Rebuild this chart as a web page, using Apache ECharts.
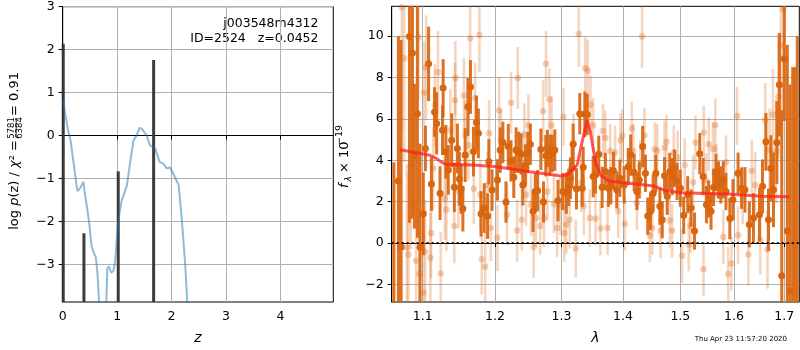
<!DOCTYPE html>
<html>
<head>
<meta charset="utf-8">
<script src="https://cdn.jsdelivr.net/npm/echarts@6/dist/echarts.min.js"></script>
<style>
  html, body { margin: 0; padding: 0; background: #fff; }
  #chart { width: 800px; height: 350px; }
</style>
</head>
<body>
<div id="chart"></div>
<script>
// left panel: redshift probability
const pzZ = [0.01, 0.04, 0.10, 0.15, 0.18, 0.23, 0.27, 0.31, 0.35, 0.38, 0.41, 0.45, 0.49, 0.53, 0.58, 0.61, 0.64, 0.67,
  0.70, 0.78, 0.80, 0.82, 0.85, 0.89, 0.93, 0.96, 1.02, 1.08, 1.18, 1.24, 1.30, 1.36, 1.41, 1.45, 1.54, 1.60,
  1.70, 1.78, 1.85, 1.91, 1.97, 2.03, 2.13, 2.19, 2.25, 2.29, 2.33];
const pzLogP = [0.82, 0.55, 0.12, -0.15, -0.45, -0.92, -1.29, -1.24, -1.15, -1.07, -1.38, -1.69, -2.07, -2.57, -2.75, -2.84, -3.23, -3.9,
  -5, -5, -3.9, -3.09, -3.04, -3.19, -3.15, -2.95, -1.99, -1.53, -1.15, -0.61, -0.11, 0.01, 0.18, 0.16, 0.01, -0.22,
  -0.30, -0.61, -0.65, -0.76, -0.74, -0.88, -1.15, -1.99, -3.0, -3.92, -5];
const peakZ = [0.01, 0.39, 1.02, 1.67];
const peakLogP = [2.14, -2.27, -0.83, 1.76];
const zTicks = [0, 1, 2, 3, 4];
const logPTicks = [-3, -2, -1, 0, 1, 2, 3];

// right panel: spectrum
const darkWave = [
  1.0625, 1.0683, 1.0718, 1.0826, 1.0865, 1.0891, 1.0930, 1.0965, 1.1008, 1.1036,
  1.1078, 1.1116, 1.1158, 1.1186, 1.1232, 1.1265, 1.1274, 1.1311, 1.1344, 1.1391,
  1.1427, 1.1469, 1.1497, 1.1521, 1.1545, 1.1577, 1.1615, 1.1651, 1.1693, 1.1735,
  1.1763, 1.1800, 1.1846, 1.1894, 1.1912, 1.1958, 1.2036, 1.2075, 1.2115, 1.2160,
  1.2194, 1.2234, 1.2275, 1.2309, 1.2349, 1.2384, 1.2409, 1.2448, 1.2484, 1.2522,
  1.2563, 1.2597, 1.2633, 1.2682, 1.2722, 1.2757, 1.2782, 1.2821, 1.2857, 1.2896,
  1.2946, 1.3023, 1.3076, 1.3113, 1.3141, 1.3168, 1.3184, 1.3237, 1.3290, 1.3329,
  1.3345, 1.3371, 1.3410, 1.3506, 1.3544, 1.3597, 1.3652, 1.3705, 1.3758, 1.3797,
  1.3839, 1.3894, 1.3947, 1.4018, 1.4088, 1.4130, 1.4189, 1.4236, 1.4277, 1.4335,
  1.4383, 1.4423, 1.4471, 1.4518, 1.4564, 1.4635, 1.4677, 1.4718, 1.4765, 1.4811,
  1.4853, 1.4894, 1.4942, 1.5000, 1.5061, 1.5134, 1.5197, 1.5258, 1.5355, 1.5418,
  1.5479, 1.5521, 1.5565, 1.5613, 1.5657, 1.5705, 1.5749, 1.5797, 1.5847, 1.5921,
  1.5981, 1.6080, 1.6148, 1.6214, 1.6300, 1.6380, 1.6500, 1.6560, 1.6628, 1.6680,
  1.6728, 1.6780, 1.6848, 1.6900, 1.6948, 1.7000, 1.7062, 1.7117, 1.7173, 1.7220,
  1.7268];
const darkFlux = [
  -3.5, 3.0, -0.19, 9.98, 9.18, 4.2, 6.25, -0.2, 1.41, 4.57,
  8.66, 2.85, 6.33, 5.78, 2.41, 5.45, 7.49, 4.41, 3.53, 4.97,
  2.69, 4.57, 3.10, 2.61, 1.66, 4.25, 6.58, 7.54, 4.42, 5.82,
  5.30, 1.41, 1.69, 1.30, 3.93, 2.56, 3.05, 4.49, 4.86, 1.98,
  4.66, 3.97, 3.18, 4.49, 4.38, 4.30, 2.81, 3.77, 4.38, 4.77,
  1.54, 2.49, 2.53, 4.53, 1.98, 4.22, 4.57, 4.25, 4.33, 4.49,
  2.05, 2.49, 2.41, 2.69, 3.13, 3.64, 4.77, 2.62, 6.25, 2.65,
  3.66, 6.22, 6.21, 3.21, 3.29, 4.29, 2.69, 3.46, 2.65, 2.77,
  3.49, 2.57, 3.13, 2.81, 3.69, 4.25, 3.41, 2.49, 3.05, 4.66,
  3.37, 1.30, 1.54, 2.41, 3.37, 1.78, 1.13, 3.25, 2.26, 3.46,
  3.21, 3.61, 2.98, 2.65, 1.34, 2.33, 1.69, 0.58, 4.32, 3.21,
  1.85, 2.13, 1.54, 2.69, 3.42, 3.05, 2.81, 3.05, 2.49, 1.18,
  2.09, 3.37, 2.65, 2.57, 0.89, 1.21, 1.37, 2.74, 4.89, 1.13,
  3.61, 2.57, 4.86, 7.65, -1.58, 8.90, 0.58, -2.34, -4.0, -3.5,
  -3.0];
const darkErr = [
  7.4, 7, 10, 9, 8, 3.5, 6, 5, 2.0, 1.1,
  1.8, 1.3, 1.2, 1.5, 1.3, 1.2, 1.4, 1.3, 1.2, 1.3,
  1.2, 1.2, 1.3, 1.2, 1.1, 1.3, 1.4, 1.3, 1.2, 1.3,
  1.2, 1.1, 1.2, 1.1, 1.1, 1.0, 1.0, 1.1, 1.0, 1.0,
  1.1, 1.0, 1.0, 1.1, 1.0, 1.0, 1.0, 1.0, 1.0, 1.0,
  1.0, 0.9, 1.0, 1.0, 1.0, 1.0, 0.9, 1.0, 0.9, 1.0,
  1.0, 0.9, 1.0, 0.9, 1.0, 1.0, 1.0, 1.0, 1.0, 0.9,
  1.0, 1.1, 1.0, 1.0, 0.9, 0.9, 1.0, 0.9, 0.9, 0.9,
  0.9, 0.9, 0.9, 0.9, 0.9, 1.0, 0.9, 0.9, 0.9, 1.0,
  0.9, 0.9, 0.9, 0.9, 0.9, 0.9, 0.9, 0.9, 0.9, 0.9,
  0.9, 0.9, 0.9, 0.9, 0.9, 0.9, 0.9, 0.9, 1.0, 0.9,
  0.9, 0.9, 0.9, 0.9, 0.9, 0.9, 0.9, 0.9, 0.9, 1.0,
  1.0, 1.0, 1.0, 1.1, 1.1, 1.2, 1.3, 1.3, 1.4, 1.5,
  1.6, 1.8, 2.0, 2.5, 8, 3, 9, 10, 12.5, 12,
  13];

const lightWave = [
  1.0727, 1.0757, 1.0792, 1.0813, 1.0844, 1.0913, 1.0943, 1.0956, 1.1008, 1.1018,
  1.1032, 1.1046, 1.1102, 1.1112, 1.1140, 1.1162, 1.1204, 1.1242, 1.1297, 1.1318,
  1.1372, 1.1427, 1.1437, 1.1441, 1.1483, 1.1559, 1.1577, 1.1623, 1.1647, 1.1698,
  1.1716, 1.1777, 1.1790, 1.1810, 1.1860, 1.1894, 1.1916, 1.1940, 1.2036, 1.2060,
  1.2085, 1.2175, 1.2234, 1.2324, 1.2334, 1.2394, 1.2433, 1.2458, 1.2493, 1.2533,
  1.2573, 1.2607, 1.2672, 1.2716, 1.2731, 1.2761, 1.2782, 1.2812, 1.2846, 1.2881,
  1.2931, 1.2981, 1.3032, 1.3043, 1.3076, 1.3129, 1.3190, 1.3226, 1.3274, 1.3313,
  1.3355, 1.3377, 1.3419, 1.3451, 1.3463, 1.3506, 1.3544, 1.3624, 1.3668, 1.3705,
  1.3742, 1.3786, 1.3866, 1.3920, 1.3958, 1.3990, 1.4030, 1.4148, 1.4176, 1.4236,
  1.4295, 1.4325, 1.4365, 1.4459, 1.4501, 1.4547, 1.4589, 1.4648, 1.4718, 1.4753,
  1.4811, 1.4853, 1.4882, 1.4952, 1.5031, 1.5079, 1.5153, 1.5184, 1.5234, 1.5276,
  1.5425, 1.5429, 1.5470, 1.5521, 1.5602, 1.5645, 1.5663, 1.5797, 1.5847, 1.5890,
  1.5952, 1.6060, 1.6080, 1.6168, 1.6280, 1.6348, 1.6414, 1.6514, 1.6614, 1.6660,
  1.6700, 1.6768, 1.6834, 1.6880, 1.6928, 1.6980];
const lightFlux = [
  11.4, 8.93, -0.2, -0.55, 3.7, -0.86, 9.93, -1.5, -2.39, 7.26,
  -0.42, 8.5, -0.71, 0.49, 3.61, 6.65, 8.26, -1.47, 2.17, 1.61,
  5.45, 0.82, 6.9, 7.97, 2.49, 7.13, 5.21, 4.73, 9.89, 2.62,
  7.01, 10.05, 2.33, -0.79, -1.15, 2.81, 5.3, 0.73, 0.25, 6.41,
  4.97, 1.37, 6.78, 0.6, 7.97, 1.13, 5.25, 2.33, 5.69, 1.85,
  -0.19, 1.21, 0.82, 6.37, 1.21, 8.66, 2.49, 6.94, 5.69, 1.89,
  0.73, 1.78, 6.1, 0.49, 0.89, 1.13, 4.86, -0.26, 10.1, 2.9,
  1.78, 8.45, 8.33, 1.21, 6.69, 5.69, 1.18, 0.7, 5.41, 5.09,
  0.73, 4.45, 4.38, 1.54, 4.97, 5.18, 0.93, 5.54, 4.45, 1.93,
  3.69, 9.98, 5.21, 0.38, 0.73, 4.53, 4.45, 0.58, 4.61, 4.9,
  1.09, 0.6, 4.38, 4.13, -0.62, 3.77, -0.07, 0.84, 2.94, 4.86,
  -1.27, 5.34, 3.05, 4.77, 4.54, 5.69, 3.49, 0.29, 3.9, -1.5,
  -0.99, 6.14, 0.38, 2.3, -0.55, 3.49, 2.81, 0.17, 5.93, -0.31,
  4.49, 6.21, 4.42, 7.06, 9.53, 11.3];
const lightErr = [
  6, 5, 4, 4, 4, 3, 3, 3, 3, 2.5,
  2.5, 2.5, 2.2, 2.2, 2.0, 2.0, 2.0, 2.0, 2.0, 2.0,
  2.0, 1.8, 1.8, 1.8, 1.8, 1.8, 1.7, 1.7, 1.8, 1.7,
  1.7, 1.8, 1.7, 1.7, 1.7, 1.6, 1.6, 1.6, 1.6, 1.6,
  1.5, 1.5, 1.5, 1.5, 1.5, 1.5, 1.5, 1.5, 1.5, 1.5,
  1.5, 1.4, 1.4, 1.5, 1.4, 1.6, 1.4, 1.5, 1.4, 1.4,
  1.4, 1.4, 1.4, 1.4, 1.4, 1.4, 1.4, 1.4, 1.6, 1.4,
  1.4, 1.5, 1.5, 1.4, 1.4, 1.3, 1.3, 1.3, 1.3, 1.3,
  1.3, 1.3, 1.3, 1.3, 1.3, 1.3, 1.3, 1.3, 1.3, 1.3,
  1.3, 1.5, 1.3, 1.3, 1.3, 1.3, 1.3, 1.3, 1.3, 1.3,
  1.3, 1.3, 1.3, 1.3, 1.3, 1.3, 1.3, 1.3, 1.3, 1.3,
  1.3, 1.3, 1.3, 1.3, 1.3, 1.3, 1.3, 1.3, 1.3, 1.3,
  1.3, 1.4, 1.4, 1.4, 1.5, 1.5, 1.6, 1.7, 1.8, 1.9,
  2.0, 2.2, 2.5, 3, 4, 5];

const modelWave = [1.0704, 1.1097, 1.1180, 1.1300, 1.1689, 1.2025, 1.2517, 1.2996, 1.3083, 1.3168,
  1.3248, 1.3327, 1.3408, 1.3461, 1.3542, 1.3623, 1.3761, 1.3984, 1.4267, 1.4527,
  1.4731, 1.5028, 1.5332, 1.5958, 1.6545, 1.7104];
const modelFlux = [4.51, 4.24, 4.09, 3.81, 3.77, 3.69, 3.44, 3.24, 3.29, 3.53,
  3.77, 4.89, 5.93, 5.37, 3.93, 3.29, 3.00, 2.92, 2.84, 2.76,
  2.53, 2.43, 2.41, 2.36, 2.26, 2.24];
const waveTicks = [1.1, 1.2, 1.3, 1.4, 1.5, 1.6, 1.7];
const fluxTicks = [-2, 0, 2, 4, 6, 8, 10];

const FONT = "DejaVu Sans";
const ORANGE = "#d9650f";

const minus = (v) => (v < 0 ? "\u2212" + Math.abs(v) : String(v));

// clip a vertical segment to the grid rect
function vline(params, api, x, lo, hi, stroke, width, opacity) {
  const cs = params.coordSys;
  const p0 = api.coord([x, lo]);
  const p1 = api.coord([x, hi]);
  const top = cs.y, bottom = cs.y + cs.height;
  const clamp = (y) => Math.min(Math.max(y, top), bottom);
  return {
    type: "line",
    shape: { x1: p0[0], y1: clamp(p0[1]), x2: p1[0], y2: clamp(p1[1]) },
    style: { stroke: stroke, lineWidth: width, opacity: opacity },
  };
}

const axisCommon = {
  axisLine: { show: true, lineStyle: { color: "#000", width: 1 } },
  axisTick: { show: true, length: 4, lineStyle: { color: "#000" } },
  splitLine: { show: true, lineStyle: { color: "#b0b0b0", width: 1 } },
};

const chart = echarts.init(document.getElementById("chart"));

const option = {
  animation: false,
  backgroundColor: "#fff",
  grid: [
    { left: 62.7, top: 6.7, width: 270.6, height: 297.3, show: true, borderColor: "#000", borderWidth: 1, backgroundColor: "transparent" },
    { left: 391.7, top: 6.3, width: 407.6, height: 297.7, show: true, borderColor: "#000", borderWidth: 1, backgroundColor: "transparent" },
  ],
  xAxis: [
    {
      type: "value", gridIndex: 0, min: 0, max: 4.97,
      name: "z", nameLocation: "middle", nameGap: 29,
      nameTextStyle: { fontFamily: FONT, fontStyle: "italic", fontSize: 14, color: "#000" },
      ...axisCommon,
      axisTick: { ...axisCommon.axisTick, customValues: zTicks },
      axisLabel: { customValues: zTicks, color: "#000", fontFamily: FONT, fontSize: 12.5, margin: 8, formatter: minus },
    },
    {
      type: "log", logBase: 10, gridIndex: 1, min: 1.0597, max: 1.731,
      name: "\u03bb", nameLocation: "middle", nameGap: 29,
      nameTextStyle: { fontFamily: FONT, fontStyle: "italic", fontSize: 14, color: "#000" },
      ...axisCommon,
      minorTick: { show: false },
      axisTick: { ...axisCommon.axisTick, customValues: waveTicks },
      axisLabel: { customValues: waveTicks, color: "#000", fontFamily: FONT, fontSize: 12.5, margin: 8, formatter: (v) => Number(v).toFixed(1) },
    },
  ],
  yAxis: [
    {
      type: "value", gridIndex: 0, min: -3.87, max: 3,
      ...axisCommon,
      axisTick: { ...axisCommon.axisTick, customValues: logPTicks },
      axisLabel: { customValues: logPTicks, color: "#000", fontFamily: FONT, fontSize: 12.5, margin: 8, formatter: minus },
    },
    {
      type: "value", gridIndex: 1, min: -2.85, max: 11.44,
      ...axisCommon,
      axisTick: { ...axisCommon.axisTick, customValues: fluxTicks },
      axisLabel: { customValues: fluxTicks, color: "#000", fontFamily: FONT, fontSize: 12.5, margin: 8, formatter: minus },
    },
  ],
  series: [
    {
      name: "p(z)", type: "line", xAxisIndex: 0, yAxisIndex: 0,
      data: pzZ.map((z, i) => [z, pzLogP[i]]),
      showSymbol: false, symbol: "none", clip: true,
      lineStyle: { color: "#1f77b4", width: 2, opacity: 0.5 },
    },
    {
      name: "peaks", type: "custom", xAxisIndex: 0, yAxisIndex: 0,
      data: peakZ.map((z, i) => [z, peakLogP[i]]),
      renderItem: (params, api) => vline(params, api, api.value(0), -10, api.value(1), "#333", 3, 0.95),
    },
    {
      name: "light err", type: "custom", xAxisIndex: 1, yAxisIndex: 1,
      data: lightWave.map((w, i) => [w, lightFlux[i] - lightErr[i], lightFlux[i] + lightErr[i]]),
      renderItem: (params, api) => vline(params, api, api.value(0), api.value(1), api.value(2), ORANGE, 2.6, 0.27),
    },
    {
      name: "light", type: "scatter", xAxisIndex: 1, yAxisIndex: 1,
      data: lightWave.map((w, i) => [w, lightFlux[i]]),
      symbolSize: 6.5, itemStyle: { color: ORANGE, opacity: 0.3 },
    },
    {
      name: "dark err", type: "custom", xAxisIndex: 1, yAxisIndex: 1,
      data: darkWave.map((w, i) => [w, darkFlux[i] - darkErr[i], darkFlux[i] + darkErr[i]]),
      renderItem: (params, api) => vline(params, api, api.value(0), api.value(1), api.value(2), ORANGE, 3, 0.92),
    },
    {
      name: "dark", type: "scatter", xAxisIndex: 1, yAxisIndex: 1,
      data: darkWave.map((w, i) => [w, darkFlux[i]]),
      symbolSize: 7, itemStyle: { color: ORANGE, opacity: 1 },
    },
    {
      name: "model", type: "line", xAxisIndex: 1, yAxisIndex: 1,
      data: modelWave.map((w, i) => [w, modelFlux[i]]),
      showSymbol: false, symbol: "none",
      lineStyle: { color: "#ff2020", width: 3, opacity: 0.75 },
      markLine: {
        silent: true, symbol: "none", label: { show: false },
        lineStyle: { color: "#000", width: 2, type: [2, 3], opacity: 0.85 },
        data: [{ yAxis: 0 }],
      },
    },
  ],
  graphic: [
    { type: "text", x: 318.5, y: 24, style: { text: "j003548m4312", fontFamily: FONT, fontSize: 12.5, fill: "#000", align: "right", verticalAlign: "middle" } },
    { type: "text", x: 318.5, y: 39, style: { text: "ID=2524   z=0.0452", fontFamily: FONT, fontSize: 12.5, fill: "#000", align: "right", verticalAlign: "middle" } },
    {
      type: "group", x: 15, y: 231, rotation: Math.PI / 2,
      children: [
        { type: "text", x: 91, y: 0, style: { text: "log {i|p}(z) / {i|\u03c7}\u00b2 =", fontFamily: FONT, fontSize: 13, fill: "#000", align: "right", verticalAlign: "middle",
          rich: { i: { fontFamily: FONT, fontSize: 13, fontStyle: "italic", fill: "#000" } } } },
        { type: "text", x: 103, y: -3, style: { text: "5781", fontFamily: FONT, fontSize: 8.5, fill: "#000", align: "center", verticalAlign: "middle" } },
        { type: "line", shape: { x1: 93.5, y1: 1.2, x2: 112.5, y2: 1.2 }, style: { stroke: "#000", lineWidth: 0.8 } },
        { type: "text", x: 103, y: 5.2, style: { text: "6384", fontFamily: FONT, fontSize: 8.5, fill: "#000", align: "center", verticalAlign: "middle" } },
        { type: "text", x: 115, y: 0, style: { text: "= 0.91", fontFamily: FONT, fontSize: 13, fill: "#000", align: "left", verticalAlign: "middle" } },
      ],
    },
    {
      type: "group", x: 345, y: 188, rotation: Math.PI / 2,
      children: [
        { type: "text", x: 0, y: 0, style: { text: "f", fontFamily: FONT, fontSize: 13, fontStyle: "italic", fill: "#000", align: "left", verticalAlign: "middle" } },
        { type: "text", x: 6.5, y: 3.5, style: { text: "\u03bb", fontFamily: FONT, fontSize: 9, fontStyle: "italic", fill: "#000", align: "left", verticalAlign: "middle" } },
        { type: "text", x: 15, y: 0, style: { text: "\u00d7 10", fontFamily: FONT, fontSize: 13, fill: "#000", align: "left", verticalAlign: "middle" } },
        { type: "text", x: 43, y: -5, style: { text: "\u221219", fontFamily: FONT, fontSize: 9.5, fill: "#000", align: "left", verticalAlign: "middle" } },
      ],
    },
    { type: "text", x: 787, y: 339, style: { text: "Thu Apr 23 11:57:20 2020", fontFamily: FONT, fontSize: 7, fill: "#000", align: "right", verticalAlign: "middle" } },
  ],
};

chart.setOption(option);
</script>
</body>
</html>
